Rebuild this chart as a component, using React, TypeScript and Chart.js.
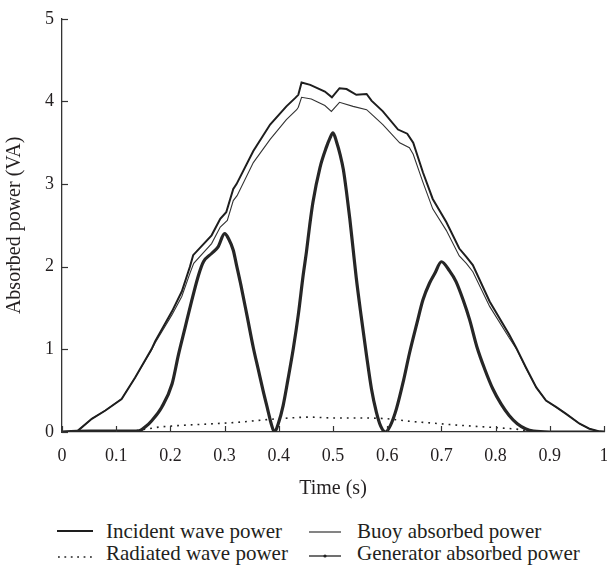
import React, { useEffect, useRef } from 'react';
import { Chart, registerables } from 'chart.js';
Chart.register(...registerables);

const FONT = "'Liberation Serif', 'Times New Roman', serif";
const INK = '#231f20';

const xTickLabels = ['0', '0.1', '0.2', '0.3', '0.4', '0.5', '0.6', '0.7', '0.8', '0.9', '1'];
const yTickLabels = ['0', '1', '2', '3', '4', '5'];
const xTitle = 'Time (s)';
const yTitle = 'Absorbed power (VA)';
const legendLabels = ['Incident wave power', 'Buoy absorbed power', 'Radiated wave power', 'Generator absorbed power'];

const incidentT = [0, 0.025, 0.03, 0.055, 0.08, 0.11, 0.135, 0.165, 0.172, 0.203, 0.221, 0.236, 0.242, 0.276, 0.292, 0.303, 0.316, 0.322, 0.353, 0.384, 0.414, 0.43, 0.436, 0.442, 0.458, 0.485, 0.498, 0.512, 0.525, 0.543, 0.562, 0.571, 0.592, 0.62, 0.637, 0.648, 0.666, 0.684, 0.709, 0.733, 0.746, 0.758, 0.789, 0.825, 0.838, 0.856, 0.875, 0.893, 0.912, 0.93, 0.955, 0.973, 0.99, 1.0];
const incidentP = [0, 0, 0.02, 0.16, 0.26, 0.40, 0.66, 1.0, 1.10, 1.46, 1.70, 2.0, 2.14, 2.38, 2.58, 2.66, 2.94, 3.0, 3.40, 3.72, 3.94, 4.04, 4.08, 4.23, 4.20, 4.12, 4.05, 4.16, 4.15, 4.08, 4.09, 4.01, 3.88, 3.66, 3.61, 3.50, 3.14, 2.82, 2.54, 2.22, 2.12, 2.02, 1.58, 1.18, 1.02, 0.78, 0.54, 0.38, 0.30, 0.22, 0.10, 0.04, 0.01, 0];

const buoyT = [0, 0.025, 0.03, 0.055, 0.08, 0.11, 0.135, 0.165, 0.172, 0.203, 0.221, 0.236, 0.243, 0.276, 0.292, 0.305, 0.316, 0.323, 0.353, 0.384, 0.414, 0.433, 0.436, 0.442, 0.46, 0.485, 0.497, 0.512, 0.537, 0.562, 0.572, 0.592, 0.623, 0.641, 0.648, 0.666, 0.684, 0.709, 0.733, 0.746, 0.758, 0.789, 0.825, 0.84, 0.856, 0.875, 0.893, 0.912, 0.93, 0.955, 0.973, 0.99, 1.0];
const buoyP = [0, 0, 0.02, 0.16, 0.26, 0.40, 0.66, 0.99, 1.08, 1.42, 1.64, 1.92, 2.04, 2.28, 2.48, 2.56, 2.80, 2.86, 3.26, 3.54, 3.78, 3.90, 3.93, 4.05, 4.03, 3.95, 3.88, 3.99, 3.94, 3.90, 3.84, 3.72, 3.50, 3.44, 3.36, 3.02, 2.70, 2.44, 2.13, 2.04, 1.94, 1.52, 1.14, 0.99, 0.77, 0.54, 0.38, 0.30, 0.22, 0.10, 0.04, 0.01, 0];

const radiatedT = [0, 0.12, 0.14, 0.16, 0.18, 0.22, 0.28, 0.33, 0.378, 0.42, 0.457, 0.5, 0.55, 0.6, 0.641, 0.68, 0.715, 0.76, 0.807, 0.844, 0.87, 1.0];
const radiatedP = [0, 0, 0.02, 0.04, 0.06, 0.08, 0.10, 0.12, 0.15, 0.17, 0.18, 0.17, 0.17, 0.16, 0.13, 0.11, 0.09, 0.07, 0.05, 0.03, 0, 0];

const generatorT = [0, 0.05, 0.14, 0.155, 0.166, 0.184, 0.203, 0.215, 0.227, 0.239, 0.252, 0.261, 0.276, 0.288, 0.3, 0.308, 0.316, 0.322, 0.33, 0.341, 0.353, 0.362, 0.371, 0.38, 0.386, 0.392, 0.399, 0.408, 0.417, 0.427, 0.436, 0.445, 0.451, 0.457, 0.463, 0.476, 0.488, 0.494, 0.5, 0.507, 0.513, 0.519, 0.525, 0.531, 0.537, 0.543, 0.552, 0.562, 0.571, 0.58, 0.588, 0.597, 0.606, 0.617, 0.63, 0.641, 0.655, 0.666, 0.678, 0.688, 0.7, 0.715, 0.727, 0.74, 0.752, 0.766, 0.78, 0.795, 0.81, 0.825, 0.84, 0.855, 0.87, 0.9, 1.0];
const generatorP = [0, 0.01, 0.01, 0.07, 0.14, 0.30, 0.58, 0.94, 1.26, 1.58, 1.90, 2.06, 2.16, 2.24, 2.40, 2.33, 2.20, 2.02, 1.78, 1.42, 1.02, 0.76, 0.50, 0.26, 0.10, 0.0, 0.10, 0.32, 0.64, 1.02, 1.42, 1.90, 2.18, 2.50, 2.78, 3.20, 3.45, 3.55, 3.62, 3.50, 3.36, 3.18, 2.90, 2.58, 2.22, 1.86, 1.40, 0.92, 0.52, 0.24, 0.07, 0.0, 0.08, 0.28, 0.62, 0.95, 1.32, 1.60, 1.80, 1.92, 2.06, 1.95, 1.82, 1.60, 1.36, 1.02, 0.76, 0.52, 0.34, 0.20, 0.10, 0.04, 0.01, 0.0, 0.0];

const pts = (t: number[], p: number[]) => t.map((x, i) => ({ x, y: p[i] }));

const inwardTicks = {
  id: 'inwardTicks',
  afterDraw(chart: any) {
    const { ctx, chartArea, scales } = chart;
    const xs = scales.x, ys = scales.y;
    ctx.save();
    ctx.strokeStyle = '#333';
    ctx.lineWidth = 1.2;
    xs.ticks.forEach((t: any) => {
      const px = Math.round(xs.getPixelForValue(t.value)) + 0.5;
      ctx.beginPath();
      ctx.moveTo(px, chartArea.bottom);
      ctx.lineTo(px, chartArea.bottom - 6);
      ctx.stroke();
    });
    ys.ticks.forEach((t: any) => {
      const py = Math.round(ys.getPixelForValue(t.value)) + 0.5;
      ctx.beginPath();
      ctx.moveTo(chartArea.left, py);
      ctx.lineTo(chartArea.left + 6, py);
      ctx.stroke();
    });
    ctx.restore();
  },
};

export default function App() {
  const ref = useRef<HTMLCanvasElement>(null);
  useEffect(() => {
    if (!ref.current) return;
    const chart = new Chart(ref.current, {
      type: 'line',
      data: {
        datasets: [
          { label: legendLabels[3], data: pts(generatorT, generatorP), borderColor: '#262626', borderWidth: 3.2, pointRadius: 0, cubicInterpolationMode: 'monotone', fill: false },
          { label: legendLabels[0], data: pts(incidentT, incidentP), borderColor: '#1e1e1e', borderWidth: 2, pointRadius: 0, tension: 0, fill: false },
          { label: legendLabels[1], data: pts(buoyT, buoyP), borderColor: '#333', borderWidth: 1.1, pointRadius: 0, tension: 0, fill: false },
          { label: legendLabels[2], data: pts(radiatedT, radiatedP), borderColor: '#222', borderWidth: 1.6, borderDash: [1.8, 5], pointRadius: 0, cubicInterpolationMode: 'monotone', fill: false },
        ],
      },
      options: {
        responsive: false,
        animation: false,
        parsing: true,
        layout: { padding: { top: 15, right: 3, bottom: 0, left: 0 } },
        plugins: { legend: { display: false }, tooltip: { enabled: false } },
        scales: {
          x: {
            type: 'linear',
            min: 0,
            max: 1,
            afterFit: (s: any) => { s.height = 73; s.paddingRight = 3; },
            ticks: {
              stepSize: 0.1,
              padding: 13,
              color: INK,
              font: { family: FONT, size: 18 },
              maxRotation: 0,
              autoSkip: false,
              callback: (_v: any, i: number) => xTickLabels[i],
            },
            grid: { display: true, drawOnChartArea: false, drawTicks: false },
            border: { display: true, color: '#333', width: 1.3 },
            title: { display: true, text: xTitle, color: INK, font: { family: FONT, size: 20 }, padding: { top: 0, bottom: 4 } },
          },
          y: {
            type: 'linear',
            min: 0,
            max: 5,
            afterFit: (s: any) => { s.width = 62; },
            ticks: {
              stepSize: 1,
              padding: 8,
              color: INK,
              font: { family: FONT, size: 18 },
              callback: (_v: any, i: number) => yTickLabels[i],
            },
            grid: { display: true, drawOnChartArea: false, drawTicks: false },
            border: { display: true, color: '#333', width: 1.3 },
            title: { display: true, text: yTitle, color: INK, font: { family: FONT, size: 20 }, padding: { top: 3, bottom: 0 } },
          },
        },
      },
      plugins: [inwardTicks],
    } as any);
    return () => chart.destroy();
  }, []);

  const textStyle = { fontFamily: FONT, fontSize: 21, fill: INK } as any;
  return (
    <div style={{ position: 'absolute', left: 0, top: 0, width: 607, height: 573, background: '#fff' }}>
      <canvas ref={ref} width={607} height={505} style={{ display: 'block', position: 'absolute', left: 0, top: 0 }} />
      <svg width={607} height={68} style={{ position: 'absolute', left: 0, top: 505 }}>
        <line x1={57} x2={93} y1={26} y2={26} stroke="#1e1e1e" strokeWidth={2} />
        <text x={106} y={33} style={textStyle}>{legendLabels[0]}</text>
        <line x1={309} x2={341} y1={27} y2={27} stroke="#333" strokeWidth={1.2} />
        <text x={357} y={33} style={textStyle}>{legendLabels[1]}</text>
        <line x1={58} x2={93} y1={52} y2={52} stroke="#222" strokeWidth={1.6} strokeDasharray="1.8 4.6" />
        <text x={106} y={55} style={textStyle}>{legendLabels[2]}</text>
        <line x1={309} x2={341} y1={51} y2={51} stroke="#222" strokeWidth={1.3} />
        <circle cx={325} cy={51} r={1.6} fill="#222" />
        <text x={357} y={55} style={textStyle}>{legendLabels[3]}</text>
      </svg>
    </div>
  );
}
